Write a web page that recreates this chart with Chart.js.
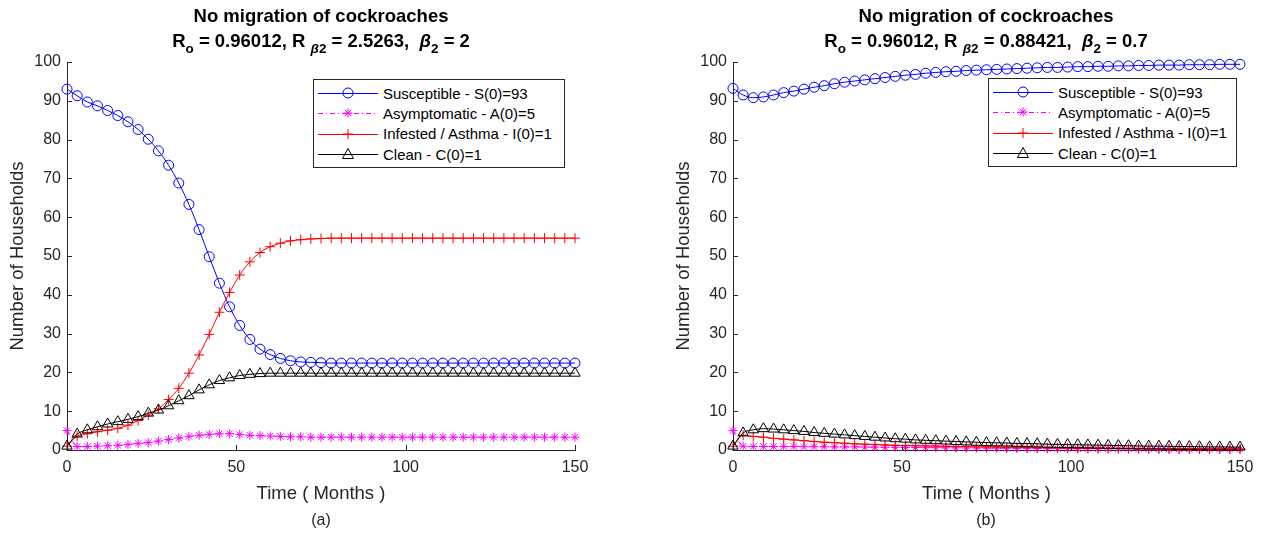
<!DOCTYPE html>
<html>
<head>
<meta charset="utf-8">
<script src="https://cdn.jsdelivr.net/npm/chart.js@4"></script>
<style>
body { margin:0; background:#fff; width:1265px; height:535px; position:relative; overflow:hidden; font-family:"Liberation Sans", Arial, sans-serif; }
.panel { position:absolute; top:0; width:632px; height:535px; }
canvas { position:absolute; left:0; top:0; }
.title { position:absolute; top:3px; width:400px; text-align:center; font-weight:bold; font-size:18.5px; line-height:25px; color:#000; white-space:nowrap; }
.title sub { font-size:13.5px; vertical-align:-6px; line-height:0; }
.caption { position:absolute; top:511px; width:100px; text-align:center; font-size:16px; color:#262626; }
.legend { position:absolute; background:#fff; border:1px solid #262626; box-sizing:border-box; padding-top:3px; }
.legend .row { height:20.3px; display:flex; align-items:center; font-size:15px; color:#000; white-space:nowrap; }
.legend svg { margin-left:4px; margin-right:5px; flex:none; }
</style>
</head>
<body>
<div class="panel" style="left:0px">
  <canvas id="chartA" width="632" height="535"></canvas>
  <div class="title" style="left:121px">No migration of cockroaches<br>R<sub>o</sub> = 0.96012, R <sub><i>β</i>2</sub> = 2.5263,&nbsp; <i>β</i><sub>2</sub> = 2</div>
  <div class="legend" id="legendA" style="left:313px; top:79px; width:252px; height:89px"></div>
  <div class="caption" style="left:271px">(a)</div>
</div>
<div class="panel" style="left:633px">
  <canvas id="chartB" width="632" height="535"></canvas>
  <div class="title" style="left:153px">No migration of cockroaches<br>R<sub>o</sub> = 0.96012, R <sub><i>β</i>2</sub> = 0.88421,&nbsp; <i>β</i><sub>2</sub> = 0.7</div>
  <div class="legend" id="legendB" style="left:355px; top:78px; width:249px; height:89px"></div>
  <div class="caption" style="left:303px">(b)</div>
</div>
<script>
// time in months, one marker every 3 months
const months = [0,3,6,9,12,15,18,21,24,27,30,33,36,39,42,45,48,51,54,57,60,63,66,69,72,75,78,81,84,87,90,93,96,99,102,105,108,111,114,117,120,123,126,129,132,135,138,141,144,147,150];

const seriesLabels = ['Susceptible - S(0)=93', 'Asymptomatic - A(0)=5', 'Infested / Asthma - I(0)=1', 'Clean - C(0)=1'];
const xTickValues = [0, 50, 100, 150];
const yTickValues = [0, 10, 20, 30, 40, 50, 60, 70, 80, 90, 100];

// (a) beta2 = 2
const susceptibleA = [93.0,91.3,89.7,88.7,87.5,86.2,84.6,82.6,80.1,77.1,73.4,68.8,63.3,56.8,49.8,43.0,36.9,32.1,28.5,26.0,24.6,23.6,23.0,22.7,22.6,22.5,22.4,22.4,22.4,22.4,22.4,22.4,22.4,22.4,22.4,22.4,22.4,22.4,22.4,22.4,22.4,22.4,22.4,22.4,22.4,22.4,22.4,22.4,22.4,22.4,22.4];
const asymptomaticA = [5.0,0.9,0.9,1.0,1.1,1.2,1.4,1.7,1.9,2.3,2.7,3.1,3.5,3.8,4.0,4.2,4.2,4.0,3.8,3.7,3.6,3.5,3.4,3.4,3.3,3.3,3.3,3.3,3.3,3.3,3.3,3.3,3.3,3.3,3.3,3.3,3.3,3.3,3.3,3.3,3.3,3.3,3.3,3.3,3.3,3.3,3.3,3.3,3.3,3.3,3.3];
const infestedA = [1.0,3.6,4.2,4.7,5.1,5.6,6.4,7.6,9.0,10.6,13.0,15.9,19.8,24.5,29.8,35.5,40.6,45.1,48.5,50.9,52.4,53.3,53.9,54.2,54.4,54.5,54.6,54.6,54.6,54.6,54.6,54.6,54.6,54.6,54.6,54.6,54.6,54.6,54.6,54.6,54.6,54.6,54.6,54.6,54.6,54.6,54.6,54.6,54.6,54.6,54.6];
const cleanA = [1.0,4.1,5.2,6.0,6.7,7.3,7.9,8.6,9.5,10.3,11.4,12.7,14.0,15.5,16.8,17.9,18.6,19.2,19.5,19.7,19.8,19.8,19.8,19.8,19.8,19.8,19.8,19.8,19.8,19.8,19.8,19.8,19.8,19.8,19.8,19.8,19.8,19.8,19.8,19.8,19.8,19.8,19.8,19.8,19.8,19.8,19.8,19.8,19.8,19.8,19.8];

// (b) beta2 = 0.7
const susceptibleB = [93.2,91.5,90.8,91.0,91.5,92.1,92.5,93.0,93.5,93.9,94.4,94.8,95.1,95.4,95.7,96.0,96.3,96.6,96.8,97.1,97.3,97.5,97.6,97.8,97.9,98.0,98.1,98.2,98.3,98.4,98.5,98.6,98.6,98.7,98.8,98.8,98.9,98.9,99.0,99.0,99.1,99.1,99.2,99.2,99.2,99.3,99.3,99.3,99.4,99.4,99.4];
const asymptomaticB = [5.0,1.0,0.9,0.9,0.9,0.9,0.9,0.85,0.85,0.85,0.8,0.8,0.8,0.75,0.75,0.7,0.7,0.65,0.65,0.6,0.6,0.55,0.55,0.5,0.5,0.48,0.46,0.44,0.42,0.4,0.38,0.36,0.35,0.34,0.33,0.32,0.31,0.3,0.29,0.28,0.27,0.26,0.25,0.24,0.23,0.22,0.21,0.2,0.2,0.19,0.18];
const infestedB = [1.0,3.8,3.5,3.3,3.0,2.8,2.6,2.4,2.2,2.0,1.9,1.75,1.6,1.5,1.4,1.3,1.2,1.15,1.1,1.05,1.0,0.95,0.9,0.85,0.8,0.8,0.75,0.7,0.7,0.65,0.6,0.6,0.55,0.55,0.5,0.5,0.48,0.45,0.45,0.42,0.4,0.4,0.38,0.37,0.35,0.35,0.33,0.32,0.31,0.3,0.3];
const cleanB = [1.0,4.4,5.2,5.5,5.4,5.2,5.0,4.8,4.5,4.3,4.1,3.9,3.7,3.5,3.3,3.1,2.9,2.8,2.6,2.5,2.4,2.3,2.2,2.1,2.0,1.9,1.85,1.8,1.7,1.65,1.6,1.5,1.45,1.4,1.35,1.3,1.25,1.2,1.15,1.1,1.05,1.0,1.0,0.95,0.9,0.9,0.85,0.8,0.8,0.75,0.75];

const styles = [
    { color: '#0000ff', point: 'circle', radius: 5, dash: [] },
    { color: '#ff00ff', point: 'star', radius: 4.5, dash: [5, 3, 1, 3] },
    { color: '#ff0000', point: 'cross', radius: 5, dash: [] },
    { color: '#000000', point: 'triangle', radius: 6, dash: [] }
];

Chart.defaults.font.family = '"Liberation Sans", Arial, sans-serif';
const axisColor = '#262626';

// matlab style ticks that point into the plot
const inwardTicks = {
    id: 'inwardTicks',
    afterDraw(chart) {
        const { ctx, chartArea: a, scales: { x, y } } = chart;
        ctx.save();
        ctx.strokeStyle = axisColor;
        ctx.lineWidth = 1;
        ctx.beginPath();
        x.ticks.forEach(t => {
            const px = Math.round(x.getPixelForValue(t.value)) + 0.5;
            ctx.moveTo(px, a.bottom);
            ctx.lineTo(px, a.bottom - 5);
        });
        y.ticks.forEach(t => {
            const py = Math.round(y.getPixelForValue(t.value)) + 0.5;
            ctx.moveTo(a.left, py);
            ctx.lineTo(a.left + 5, py);
        });
        ctx.stroke();
        ctx.restore();
    }
};

function makeDatasets(seriesList) {
    return seriesList.map((vals, k) => ({
        label: seriesLabels[k],
        data: months.map((m, j) => ({ x: m, y: vals[j] })),
        borderColor: styles[k].color,
        borderWidth: 1,
        borderDash: styles[k].dash,
        pointStyle: styles[k].point,
        pointRadius: styles[k].radius,
        pointBorderColor: styles[k].color,
        pointBackgroundColor: 'rgba(0,0,0,0)',
        pointBorderWidth: 1,
        cubicInterpolationMode: 'monotone',
        fill: false,
        clip: false,
        order: 4 - k
    }));
}

function makeChart(canvasId, seriesList, pad) {
    new Chart(document.getElementById(canvasId), {
        type: 'line',
        data: { datasets: makeDatasets(seriesList) },
        options: {
            responsive: false,
            animation: false,
            devicePixelRatio: 1,
            layout: { padding: pad },
            plugins: { legend: { display: false }, title: { display: false }, tooltip: { enabled: false } },
            scales: {
                x: {
                    type: 'linear', min: 0, max: 150,
                    afterBuildTicks: s => { s.ticks = xTickValues.map(v => ({ value: v })); },
                    afterFit: s => { s.height = 55; },
                    grid: { display: false, drawTicks: false, tickLength: 0 },
                    border: { display: true, color: axisColor },
                    ticks: { font: { size: 16 }, color: axisColor, padding: 8, maxRotation: 0 },
                    title: { display: true, text: 'Time ( Months )', font: { size: 18.5 }, color: axisColor, padding: { top: 0, bottom: 0 } }
                },
                y: {
                    type: 'linear', min: 0, max: 100,
                    afterBuildTicks: s => { s.ticks = yTickValues.map(v => ({ value: v })); },
                    afterFit: s => { s.width = 67; },
                    grid: { display: false, drawTicks: false, tickLength: 0 },
                    border: { display: true, color: axisColor },
                    ticks: { font: { size: 16 }, color: axisColor, padding: 6 },
                    title: { display: true, text: 'Number of Households', font: { size: 18.5 }, color: axisColor, padding: { top: 7, bottom: 0 } }
                }
            }
        },
        plugins: [inwardTicks]
    });
}

function markerSvg(k) {
    const c = styles[k].color;
    let m = '';
    if (k === 0) m = `<circle cx="30" cy="8" r="5" fill="none" stroke="${c}"/>`;
    if (k === 1) m = `<path d="M30 3.5V12.5M25.5 8H34.5M26.8 4.8L33.2 11.2M26.8 11.2L33.2 4.8" stroke="${c}"/>`;
    if (k === 2) m = `<path d="M30 3V13M25 8H35" stroke="${c}"/>`;
    if (k === 3) m = `<path d="M30 2.5L35.5 12.5H24.5Z" fill="none" stroke="${c}"/>`;
    const dash = styles[k].dash.length ? ` stroke-dasharray="${styles[k].dash.join(' ')}"` : '';
    return `<svg width="60" height="16"><line x1="0" y1="8.5" x2="60" y2="8.5" stroke="${c}"${dash}/>${m}</svg>`;
}

function makeLegend(id) {
    document.getElementById(id).innerHTML = seriesLabels
        .map((lab, k) => `<div class="row">${markerSvg(k)}<span>${lab}</span></div>`).join('');
}

makeChart('chartA', [susceptibleA, asymptomaticA, infestedA, cleanA], { left: 0, top: 62, right: 57, bottom: 30 });
makeChart('chartB', [susceptibleB, asymptomaticB, infestedB, cleanB], { left: 33, top: 62, right: 25, bottom: 30 });
makeLegend('legendA');
makeLegend('legendB');
</script>
</body>
</html>
